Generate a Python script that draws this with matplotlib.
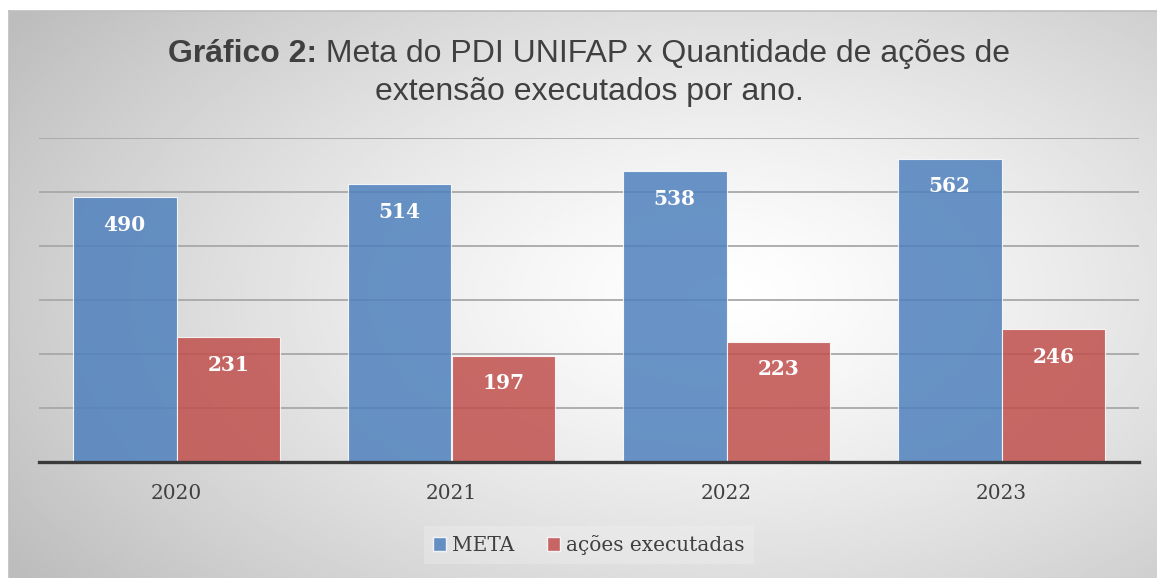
import numpy as np
import matplotlib
matplotlib.use("Agg")
import matplotlib.pyplot as plt
from matplotlib.patches import Patch

# data
years = ["2020", "2021", "2022", "2023"]
meta = [490, 514, 538, 562]
acoes = [231, 197, 223, 246]
series_names = ["META", "ações executadas"]

title_bold = "Gráfico 2:"
title_rest = " Meta do PDI UNIFAP x Quantidade de ações de"
title_line2 = "extensão executados por ano."

blue = "#4f81bd"
red = "#c0504d"
text_col = "#404040"

W, H = 1157, 578
fig = plt.figure(figsize=(W / 100, H / 100), dpi=100)
fig.patch.set_facecolor("white")

# chart area background with radial gradient
bg = fig.add_axes([9 / W, 0, (W - 9) / W, (H - 11) / H], zorder=0)
gx, gy = np.meshgrid(np.linspace(0, 1, 400), np.linspace(0, 1, 200))
r = np.sqrt(((gx - 0.62) / 0.75) ** 2 + ((gy - 0.5) / 0.85) ** 2)
shade = 1.0 - 0.26 * np.clip(r, 0, 1) ** 1.3
bg.imshow(shade, cmap="gray", vmin=0, vmax=1, aspect="auto",
          extent=[0, 1, 0, 1], interpolation="bilinear")
bg.set_xlim(0, 1)
bg.set_ylim(0, 1)
bg.set_xticks([])
bg.set_yticks([])
for s in bg.spines.values():
    s.set_color("#bdbdbd")
    s.set_linewidth(1.2)
bg.spines["right"].set_visible(False)
bg.spines["bottom"].set_visible(False)

# main axes
ax = fig.add_axes([39 / W, (H - 462) / H, 1100 / W, 324 / H], zorder=1)
ax.patch.set_alpha(0)
x = np.arange(len(years))
w = 0.378
b1 = ax.bar(x - w / 2, meta, w, color=blue, alpha=0.85,
            edgecolor="white", linewidth=0.8, zorder=3)
b2 = ax.bar(x + w / 2, acoes, w, color=red, alpha=0.85,
            edgecolor="white", linewidth=0.8, zorder=3)

for bars, vals in [(b1, meta), (b2, acoes)]:
    for rect, v in zip(bars, vals):
        ax.annotate(str(v), (rect.get_x() + rect.get_width() / 2, v),
                    xytext=(0, -20), textcoords="offset points",
                    ha="center", va="center", color="white",
                    fontsize=14.5, fontweight="bold", family="DejaVu Serif",
                    zorder=4)

ax.set_xlim(-0.5, len(years) - 0.5)
ax.set_ylim(0, 600)
ax.set_yticks(np.arange(100, 601, 100))
ax.yaxis.grid(True, color="#a8a8a8", linewidth=1.3, zorder=1)
ax.tick_params(axis="y", left=False, labelleft=False)
ax.set_xticks(x)
ax.set_xticklabels(years, fontsize=14.5, family="DejaVu Serif", color=text_col)
ax.tick_params(axis="x", length=0, pad=16)
for side in ["top", "right", "left"]:
    ax.spines[side].set_visible(False)
ax.spines["bottom"].set_color("#3a3a3a")
ax.spines["bottom"].set_linewidth(2.4)
ax.spines["bottom"].set_zorder(5)

# legend
handles = [Patch(facecolor=blue, alpha=0.85, edgecolor="white"),
           Patch(facecolor=red, alpha=0.85, edgecolor="white")]
leg = fig.legend(handles, series_names, loc="center",
                 bbox_to_anchor=(589 / W, 1 - 545 / H), ncol=2,
                 prop={"family": "DejaVu Serif", "size": 14.5},
                 handlelength=0.65, handleheight=0.65, handletextpad=0.3,
                 columnspacing=1.6, frameon=True, fancybox=False,
                 borderpad=0.45)
leg.get_frame().set_facecolor("#f4f4f4")
leg.get_frame().set_edgecolor("none")
leg.get_frame().set_alpha(0.3)
for t in leg.get_texts():
    t.set_color(text_col)

# title with bold prefix
renderer = fig.canvas.get_renderer()
tb = fig.text(0, 0, title_bold, fontsize=23, fontweight="bold",
              family="Liberation Sans", color=text_col, va="baseline")
tr = fig.text(0, 0, title_rest, fontsize=23,
              family="Liberation Sans", color=text_col, va="baseline")
wb = tb.get_window_extent(renderer).width / W
wr = tr.get_window_extent(renderer).width / W
cx = 589 / W
y1 = 1 - 62 / H
tb.set_position((cx - (wb + wr) / 2, y1))
tr.set_position((cx - (wb + wr) / 2 + wb, y1))
fig.text(cx, 1 - 100 / H, title_line2, fontsize=23, family="Liberation Sans",
         color=text_col, ha="center", va="baseline")

fig.savefig("out.png", dpi=100)
